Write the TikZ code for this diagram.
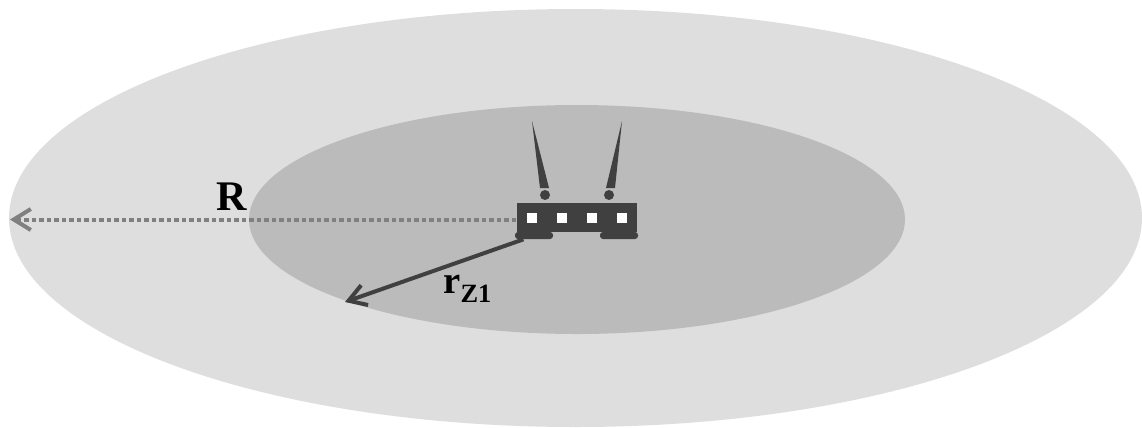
\documentclass[tikz,border=0pt]{standalone}
\usepackage{fontspec}
\setmainfont{Liberation Serif}
\usetikzlibrary{arrows.meta}
\definecolor{zoneR}{HTML}{DEDEDE}
\definecolor{zoneZ}{HTML}{BBBBBB}
\definecolor{sombre}{HTML}{404040}
\definecolor{pointille}{HTML}{808080}
\tikzset{
  led/.style={fill=white,minimum size=0.2cm,inner sep=0pt},
  pied/.style={fill=sombre,rounded corners=0.06cm,minimum width=0.76cm,minimum height=0.14cm,inner sep=0pt},
  boule/.style={circle,fill=sombre,minimum size=0.2cm,inner sep=0pt},
  fleche/.style={-{Straight Barb[length=0.34cm,width=0.42cm,line width=0.08cm]}}
}
\begin{document}
\begin{tikzpicture}[x=0.02cm,y=-0.02cm]
    \useasboundingbox (0,0) rectangle (1142,427);

    % Les deux zones
    \fill[zoneR] (575.5,218) ellipse (566.5 and 209);
    \fill[zoneZ] (577,219.5) ellipse (328 and 114.5);

    % Extremites des fleches
    \coordinate (bordR) at (10,219.5);
    \coordinate (bordZ) at (345,302);

    % Antennes
    \fill[sombre] (532,121) -- (549,188) -- (540,188) -- cycle;
    \fill[sombre] (622,121) -- (615,188) -- (606,188) -- cycle;
    \node[boule] (bouleG) at (545,195) {};
    \node[boule] (bouleD) at (609,195) {};

    % Routeur
    \node[pied] (piedG) at (534,235.5) {};
    \node[pied] (piedD) at (619,235.5) {};
    \node[fill=sombre,minimum width=2.42cm,minimum height=0.58cm,inner sep=0pt] (routeur) at (577,217.5) {};
    \node[led] (ledA) at (532,218) {};
    \node[led] (ledB) at (562,218) {};
    \node[led] (ledC) at (592,218) {};
    \node[led] (ledD) at (622,218) {};

    % Fleches
    \draw[pointille,line width=0.08cm,dash pattern=on 0.09cm off 0.06cm,fleche] (routeur.west |- bordR) -- (bordR);
    \draw[sombre,line width=0.08cm,fleche] (piedG.200) -- (bordZ);

    % Labels
    \node[inner sep=0pt,font=\fontsize{24}{24}\selectfont\bfseries] (labelR) at (232,197) {R};
    \node[inner sep=0pt,font=\fontsize{22}{22}\selectfont\bfseries,anchor=base west] (labelZ) at (443,293) {r\raisebox{-5.5pt}{\fontsize{15}{15}\selectfont Z1}};
\end{tikzpicture}
\end{document}
